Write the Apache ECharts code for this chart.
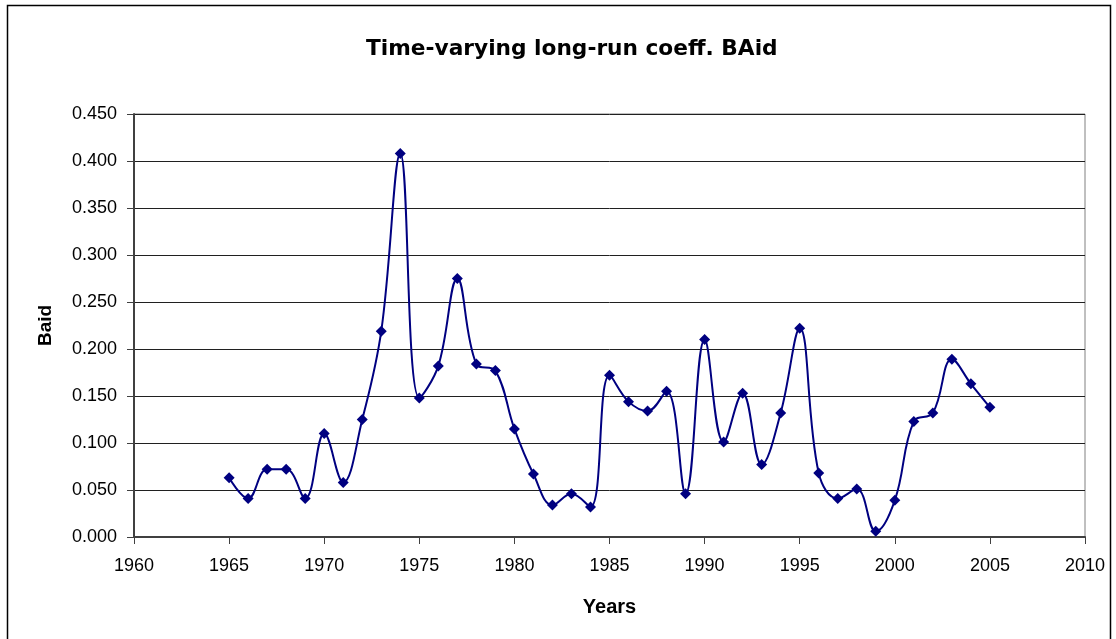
<!DOCTYPE html>
<html><head><meta charset="utf-8">
<script src="https://cdn.jsdelivr.net/npm/echarts@6/dist/echarts.min.js"></script>
<style>html,body{margin:0;padding:0;background:#fff}#c{width:1116px;height:639px}</style>
</head><body><div id="c"></div>
<script>
const years = [1965,1966,1967,1968,1969,1970,1971,1972,1973,1974,1975,1976,1977,1978,1979,1980,1981,1982,1983,1984,1985,1986,1987,1988,1989,1990,1991,1992,1993,1994,1995,1996,1997,1998,1999,2000,2001,2002,2003,2004,2005];
const baid = [0.063,0.041,0.072,0.072,0.041,0.110,0.058,0.125,0.219,0.408,0.148,0.182,0.275,0.184,0.177,0.115,0.067,0.034,0.046,0.032,0.172,0.144,0.134,0.155,0.046,0.210,0.101,0.153,0.077,0.132,0.222,0.068,0.041,0.051,0.006,0.039,0.123,0.132,0.189,0.163,0.138];
const titleText = 'Time-varying long-run coeff. BAid';
const xName = 'Years';
const yName = 'Baid';

const chart = echarts.init(document.getElementById('c'));
chart.setOption({
  animation: false,
  backgroundColor: '#fff',
  title: {
    text: titleText, left: 361, top: 33,
    textStyle: {fontFamily: 'DejaVu Sans, sans-serif', fontWeight: 'bold', fontSize: 21.7, color: '#000'}
  },
  graphic: [{type: 'rect', shape: {x: 7.5, y: 5.5, width: 1103, height: 640}, style: {fill: 'none', stroke: '#000', lineWidth: 1.5}, silent: true}],
  grid: {left: 134, right: 31, top: 114, bottom: 102, show: true, borderColor: '#808080', borderWidth: 1, backgroundColor: 'transparent'},
  xAxis: {
    type: 'value', min: 1960, max: 2010, interval: 5,
    name: xName, nameLocation: 'middle', nameGap: 60,
    nameTextStyle: {fontFamily: 'Liberation Sans, Arial, sans-serif', fontWeight: 'bold', fontSize: 20, color: '#000'},
    axisLine: {show: true, lineStyle: {color: '#404040', width: 2}},
    axisTick: {show: true, inside: false, length: 7, lineStyle: {color: '#404040'}},
    axisLabel: {color: '#000', fontSize: 18, fontFamily: 'Liberation Sans, Arial, sans-serif', margin: 20, formatter: v => String(v)},
    splitLine: {show: false}
  },
  yAxis: {
    type: 'value', min: 0, max: 0.45, interval: 0.05,
    name: yName, nameLocation: 'middle', nameGap: 79, nameRotate: 90,
    nameTextStyle: {fontFamily: 'Liberation Sans, Arial, sans-serif', fontWeight: 'bold', fontSize: 19, color: '#000'},
    axisLine: {show: true, lineStyle: {color: '#404040', width: 2}},
    axisTick: {show: true, inside: false, length: 7, lineStyle: {color: '#404040'}},
    axisLabel: {color: '#000', fontSize: 18, fontFamily: 'Liberation Sans, Arial, sans-serif', margin: 17, formatter: v => v.toFixed(3)},
    splitLine: {show: true, lineStyle: {color: '#202020', width: 1}}
  },
  series: [{
    type: 'line',
    data: years.map((y, i) => [y, baid[i]]),
    smooth: 0.4,
    symbol: 'diamond', symbolSize: 11,
    itemStyle: {color: '#000080'},
    lineStyle: {color: '#000080', width: 2}
  }]
});
</script></body></html>
